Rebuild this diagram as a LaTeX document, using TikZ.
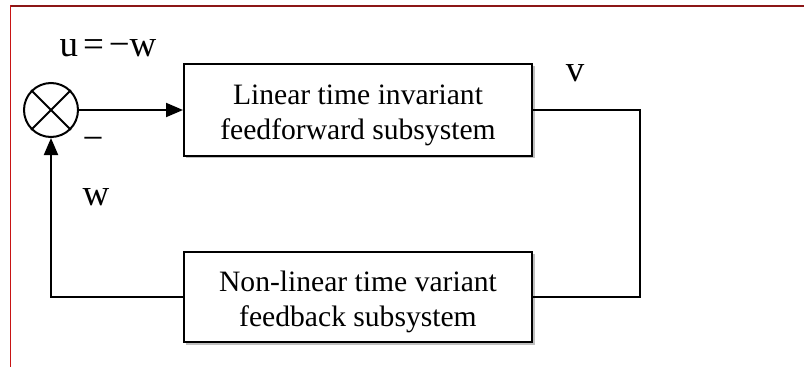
\documentclass[tikz,border=0pt]{standalone}
\usepackage{fontspec}
\setmainfont{Liberation Serif}
\usetikzlibrary{arrows.meta,calc}
\definecolor{frametop}{RGB}{140,22,22}
\definecolor{frameleft}{RGB}{200,20,20}
% two centred lines, set a little lower than the geometric centre
\newcommand{\blocktext}[2]{\raisebox{-5pt}[\height][\depth]{\begin{tabular}{@{}c@{}}#1\\#2\end{tabular}}}
\tikzset{
  block/.style={draw=black, line width=2pt, fill=white, minimum width=348pt,
    inner sep=0pt, font=\fontsize{29.6}{35}\selectfont},
  shade/.style={fill=black!25, draw=none},
  wire/.style={draw=black, line width=2pt},
  tip/.style={-{Triangle[length=17pt,width=14pt]}},
  lbl/.style={inner sep=0pt, font=\fontsize{37}{42}\selectfont},
  junction/.style={circle, draw=black, line width=2pt, minimum size=54pt, inner sep=0pt}
}
\begin{document}
\begin{tikzpicture}[x=1pt,y=-1pt]
  \useasboundingbox (0,0) rectangle (804,367);
  \fill[white] (0,0) rectangle (804,367);

  % page frame
  \draw[frametop, line width=2pt] (10,5.5) -- (804,5.5);
  \draw[frameleft, line width=1.3pt] (10.5,5) -- (10.5,367);

  % soft shadows behind the blocks
  \fill[shade] (186,66) rectangle (535,158);
  \fill[shade] (186,254) rectangle (535,344.5);

  % blocks
  \node[block, minimum height=92pt] (ff) at (358,110)
    {\blocktext{Linear time invariant}{feedforward subsystem}};
  \node[block, minimum height=90pt] (fb) at (358,297)
    {\blocktext{Non-linear time variant}{feedback subsystem}};

  % summing junction
  \node[junction] (sum) at (51,110) {};
  \draw[line width=2pt] (sum.45) -- (sum.225) (sum.135) -- (sum.315);

  % connections
  \coordinate (rt) at (640,110);
  \draw[wire, tip] (sum.east) -- (ff.west);
  \draw[wire] (ff.east) -- (rt) |- (fb.east);
  \draw[wire, tip] (fb.west) -| (sum.south);

  % signal labels
  \node[lbl] (ulab) at (108,48) {u\hspace{5pt}=\hspace{5pt}−w};
  \node[lbl] (vlab) at (575,73) {v};
  \node[lbl] (minus) at (93,144) {−};
  \node[lbl] (wlab) at (96,197) {w};
\end{tikzpicture}
\end{document}
